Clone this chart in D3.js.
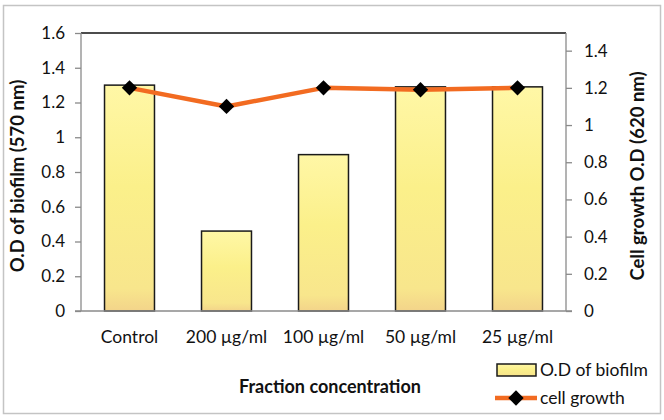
<!DOCTYPE html>
<html>
<head>
<meta charset="utf-8">
<script src="https://cdn.jsdelivr.net/npm/d3@7"></script>
<style>
  body { margin: 0; background: #fff; }
  svg text { font-family: Lato, "Open Sans", sans-serif; fill: #111; }
</style>
</head>
<body>
<svg id="chart" width="664" height="420"></svg>
<script>
// data
var categories = ["Control", "200 \u00b5g/ml", "100 \u00b5g/ml", "50 \u00b5g/ml", "25 \u00b5g/ml"];
var biofilm = [1.30, 0.46, 0.90, 1.29, 1.29];
var growth = [1.20, 1.10, 1.20, 1.19, 1.20];
var leftTicks = [0, 0.2, 0.4, 0.6, 0.8, 1, 1.2, 1.4, 1.6];
var rightTicks = [0, 0.2, 0.4, 0.6, 0.8, 1, 1.2, 1.4];

var svg = d3.select('#chart');
var margin = {left: 81, right: 98, top: 33, bottom: 109};
var w = 664 - margin.left - margin.right;
var h = 420 - margin.top - margin.bottom;

// outer frame
svg.append('rect')
  .attr('x', 3.5).attr('y', 5.5)
  .attr('width', 657).attr('height', 408)
  .attr('fill', 'none').attr('stroke', '#c4c4c4').attr('stroke-width', 1.5);

var defs = svg.append('defs');
var grad = defs.append('linearGradient')
  .attr('id', 'barfill').attr('x1', 0).attr('y1', 0).attr('x2', 0).attr('y2', 1);
grad.append('stop').attr('offset', '0%').attr('stop-color', '#fff7a6');
grad.append('stop').attr('offset', '45%').attr('stop-color', '#fbf08a');
grad.append('stop').attr('offset', '90%').attr('stop-color', '#f8e68c');
grad.append('stop').attr('offset', '100%').attr('stop-color', '#f3d48a');

var g = svg.append('g').attr('transform', 'translate(' + margin.left + ',' + margin.top + ')');

var x = d3.scaleBand().domain(categories).range([0, w]).paddingInner(0.485).paddingOuter(0.2425);
var yL = d3.scaleLinear().domain([0, 1.6]).range([h, 0]);
var yR = d3.scaleLinear().domain([0, 1.495]).range([h, 0]);

// top border of plot area
g.append('line').attr('x1', 0).attr('x2', w).attr('y1', 0).attr('y2', 0)
  .attr('stroke', '#111').attr('stroke-width', 1.3);

// bars
g.selectAll('rect.bar')
  .data(biofilm)
  .enter()
  .append('rect')
  .attr('class', 'bar')
  .attr('x', function(d, i){ return x(categories[i]); })
  .attr('y', function(d){ return yL(d); })
  .attr('width', x.bandwidth())
  .attr('height', function(d){ return h - yL(d); })
  .attr('fill', 'url(#barfill)')
  .attr('stroke', '#1a1a1a')
  .attr('stroke-width', 1.5);

// axes
var leftAxis = d3.axisLeft(yL).tickValues(leftTicks).tickSizeOuter(0).tickSize(6).tickPadding(10)
  .tickFormat(function(d){ return d3.format('')(+d.toFixed(1)); });
var la = g.append('g').call(leftAxis);
var rightAxis = d3.axisRight(yR).tickValues(rightTicks).tickSizeOuter(0).tickSize(6).tickPadding(12)
  .tickFormat(function(d){ return d3.format('')(+d.toFixed(1)); });
var ra = g.append('g').attr('transform', 'translate(' + w + ',0)').call(rightAxis);
ra.select('.domain').attr('d', 'M0,0V' + h);
la.select('.domain').attr('d', 'M0,0V' + h);
[la, ra].forEach(function(a){
  a.selectAll('.domain').attr('stroke', '#8a8a8a').attr('stroke-width', 1.3);
  a.selectAll('.tick line').attr('stroke', '#8a8a8a').attr('stroke-width', 1.3);
  a.selectAll('.tick text').attr('font-size', 17).attr('font-family', 'Lato, sans-serif').attr('fill', '#111');
});
// baseline
g.append('line').attr('x1', -6).attr('x2', w + 6).attr('y1', h).attr('y2', h)
  .attr('stroke', '#8a8a8a').attr('stroke-width', 1.3);

// category labels
g.selectAll('text.cat')
  .data(categories)
  .enter()
  .append('text')
  .attr('class', 'cat')
  .attr('x', function(d){ return x(d) + x.bandwidth() / 2; })
  .attr('y', h + 32)
  .attr('text-anchor', 'middle')
  .attr('font-size', 17.5)
  .text(function(d){ return d; });

// growth line
var line = d3.line()
  .x(function(d, i){ return x(categories[i]) + x.bandwidth() / 2; })
  .y(function(d){ return yR(d); });
g.append('path')
  .datum(growth)
  .attr('d', line)
  .attr('fill', 'none')
  .attr('stroke', '#f26b21')
  .attr('stroke-width', 4.5)
  .attr('stroke-linejoin', 'round');

var diamond = d3.symbol().type(d3.symbolDiamond2).size(150);
g.selectAll('path.mk')
  .data(growth)
  .enter()
  .append('path')
  .attr('class', 'mk')
  .attr('d', diamond)
  .attr('transform', function(d, i){
    return 'translate(' + (x(categories[i]) + x.bandwidth() / 2) + ',' + yR(d) + ')';
  })
  .attr('fill', '#000');

// axis titles
svg.append('text')
  .attr('transform', 'translate(24,176) rotate(-90)')
  .attr('text-anchor', 'middle')
  .attr('font-size', 18.5).attr('font-weight', 'bold')
  .text('O.D of biofilm (570 nm)');
svg.append('text')
  .attr('transform', 'translate(644,176) rotate(-90)')
  .attr('text-anchor', 'middle')
  .attr('font-size', 18.5).attr('font-weight', 'bold')
  .text('Cell growth O.D (620 nm)');
svg.append('text')
  .attr('x', 330).attr('y', 393)
  .attr('text-anchor', 'middle')
  .attr('font-size', 18).attr('font-weight', 'bold')
  .text('Fraction concentration');

// legend
var lg = svg.append('g');
lg.append('rect')
  .attr('x', 497).attr('y', 364).attr('width', 39).attr('height', 12)
  .attr('fill', 'url(#barfill)').attr('stroke', '#1a1a1a').attr('stroke-width', 1.5);
lg.append('text').attr('x', 540).attr('y', 376).attr('font-size', 17.5).text('O.D of biofilm');
lg.append('line').attr('x1', 495).attr('x2', 537).attr('y1', 398).attr('y2', 398)
  .attr('stroke', '#f26b21').attr('stroke-width', 4.5);
lg.append('path').attr('d', diamond).attr('transform', 'translate(516,398)').attr('fill', '#000');
lg.append('text').attr('x', 540).attr('y', 404).attr('font-size', 17.5).text('cell growth');
</script>
</body>
</html>
